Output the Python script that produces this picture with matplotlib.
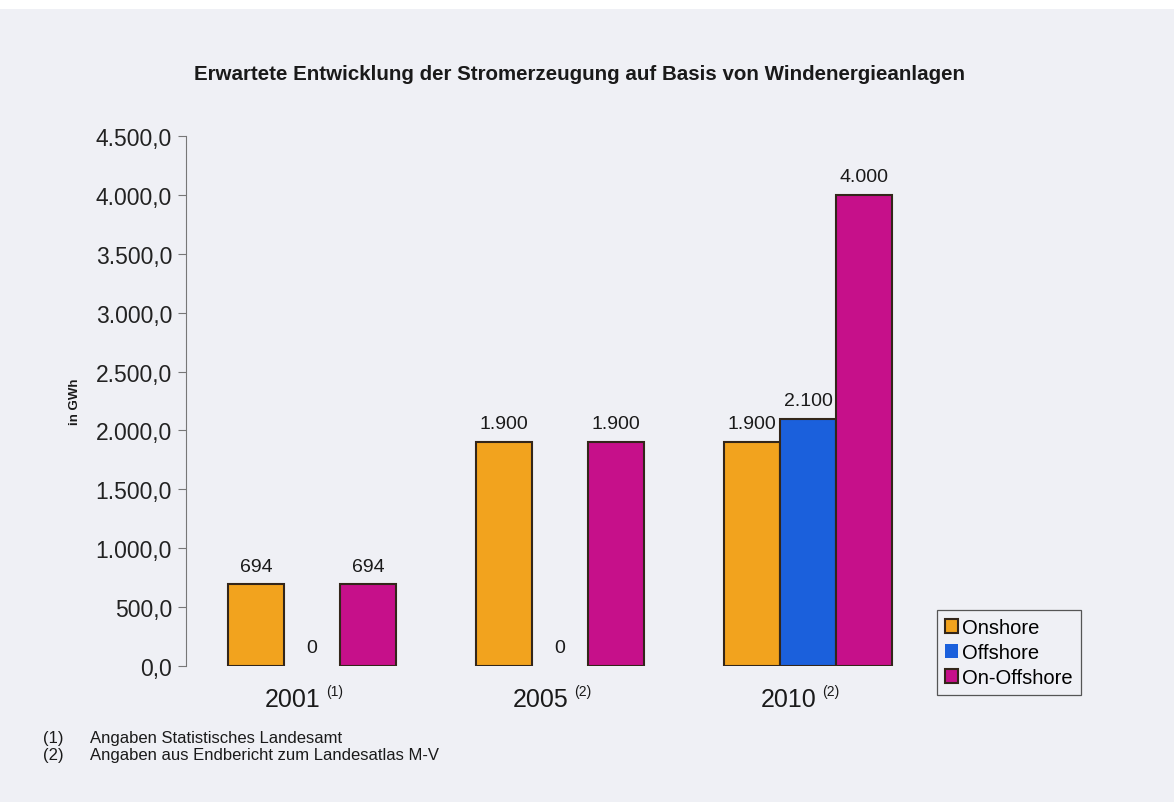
import numpy as np
import matplotlib.pyplot as plt
from matplotlib.patches import Rectangle
from matplotlib.ticker import FuncFormatter

plt.rcParams['font.family'] = ['Liberation Sans', 'DejaVu Sans']

# Stromerzeugung in GWh
years = ['2001', '2005', '2010']
year_notes = ['(1)', '(2)', '(2)']
series = ['Onshore', 'Offshore', 'On-Offshore']
onshore = [694, 1900, 1900]
offshore = [0, 0, 2100]
on_offshore = [694, 1900, 4000]
footnotes = [('(1)', 'Angaben Statistisches Landesamt'),
             ('(2)', 'Angaben aus Endbericht zum Landesatlas M-V')]

colors = ['#f2a31e', '#1b60dc', '#c6108a']
bg = '#eff0f5'


def de_num(v, decimals=0):
    s = f"{v:,.{decimals}f}"
    return s.replace(',', 'X').replace('.', ',').replace('X', '.')


fig = plt.figure(figsize=(11.74, 8.03), dpi=100, facecolor='white')
fig.patches.append(Rectangle((0, 0), 1, 1 - 10 / 803, transform=fig.transFigure,
                             facecolor=bg, edgecolor='none', zorder=-10))

ax = fig.add_axes([0.1584, 0.1694, 0.6252, 0.66])
ax.patch.set_alpha(0)

x = np.arange(len(years))
w = 0.226
for i, (vals, col, name) in enumerate(zip([onshore, offshore, on_offshore], colors, series)):
    pos = x + (i - 1) * w
    lw = [0 if v == 0 else 1.5 for v in vals]
    ax.bar(pos, vals, width=w, color=col, edgecolor='#33261a', linewidth=lw, label=name)
    for px, v in zip(pos, vals):
        ax.annotate(de_num(v), (px, v), xytext=(0, 7), textcoords='offset points',
                    ha='center', va='bottom', fontsize=14, color='#1a1a1a')

ax.set_ylim(0, 4500)
ax.set_xlim(-0.508, 2.45)
ax.set_yticks(np.arange(0, 4501, 500))
ax.yaxis.set_major_formatter(FuncFormatter(lambda v, _: de_num(v, 1)))
ax.tick_params(axis='y', direction='out', length=6, width=0.8, color='#777777',
               labelsize=16.5, labelcolor='#222222', pad=4)
ax.set_xticks([])
for s in ['top', 'right', 'bottom']:
    ax.spines[s].set_visible(False)
ax.spines['left'].set_color('#777777')
ax.spines['left'].set_linewidth(0.8)

# Jahresbeschriftung mit Fußnotenhinweis
for xi, yr, note in zip(x, years, year_notes):
    ax.annotate(yr, (xi, 0), xytext=(6, -15), textcoords='offset points',
                ha='right', va='top', fontsize=18, color='#1a1a1a')
    ax.annotate(note, (xi, 0), xytext=(10, -13), textcoords='offset points',
                ha='left', va='top', fontsize=10, color='#1a1a1a')

fig.text(75 / 1174, 1 - 402 / 803, 'in GWh', rotation=90, ha='center', va='center',
         fontsize=9.5, fontweight='bold', color='#1a1a1a')

fig.text(580 / 1174, 1 - 75 / 803,
         'Erwartete Entwicklung der Stromerzeugung auf Basis von Windenergieanlagen',
         ha='center', va='center', fontsize=14.8, fontweight='bold', color='#1a1a1a')

leg = fig.legend(loc='upper left', bbox_to_anchor=(937 / 1174, 1 - 611 / 803),
                 fontsize=14.5, frameon=True, fancybox=False, handlelength=0.65,
                 handleheight=0.65, handletextpad=0.2, borderpad=0.4, labelspacing=0.3,
                 borderaxespad=0)
leg.get_frame().set_edgecolor('#555555')
leg.get_frame().set_linewidth(0.9)
leg.get_frame().set_facecolor(bg)
leg.get_frame().set_alpha(1)

for k, (num, txt) in enumerate(footnotes):
    yy = 1 - (739 + k * 17) / 803
    fig.text(43 / 1174, yy, num, ha='left', va='center', fontsize=12, color='#1a1a1a')
    fig.text(90 / 1174, yy, txt, ha='left', va='center', fontsize=12, color='#1a1a1a')

fig.savefig('out.png', dpi=100, facecolor=fig.get_facecolor())
